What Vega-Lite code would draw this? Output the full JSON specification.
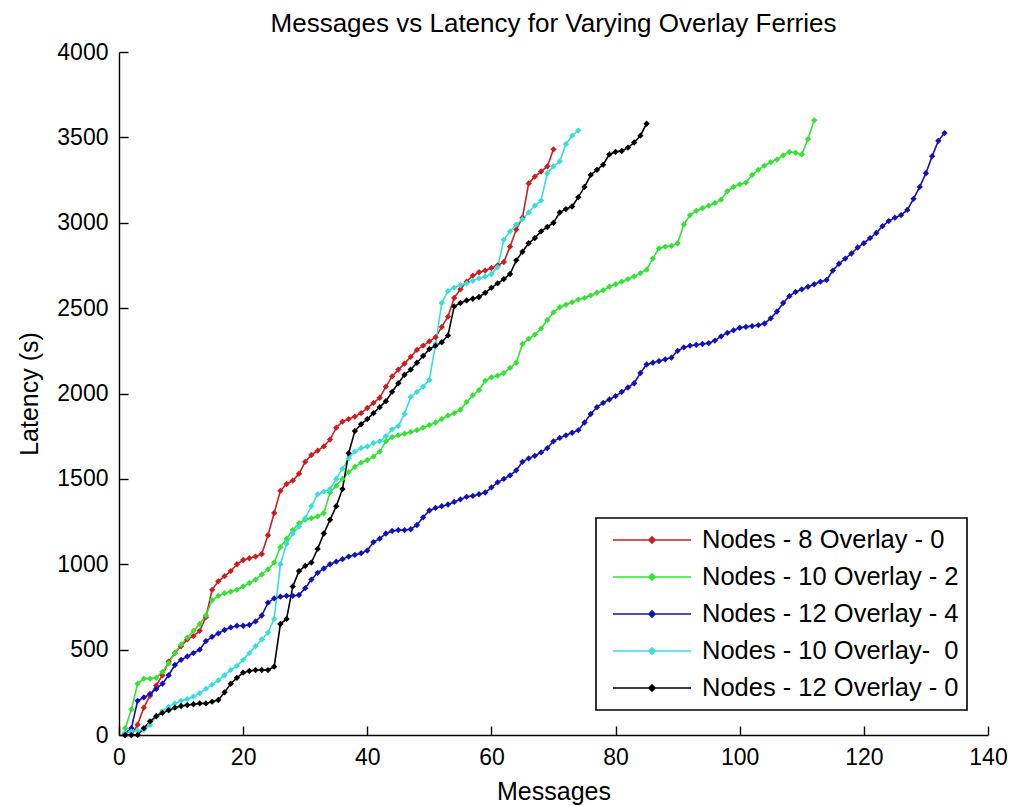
{
  "$schema": "https://vega.github.io/schema/vega-lite/v6.json",
  "width": 869,
  "height": 683,
  "autosize": {"type": "none"},
  "padding": {"left": 119, "top": 52, "right": 24, "bottom": 71},
  "background": "white",
  "title": {"text": "Messages vs Latency for Varying Overlay Ferries", "font": "Liberation Sans", "fontSize": 26, "fontWeight": "normal", "color": "black", "frame": "group", "anchor": "middle", "offset": 4},
  "datasets": {
    "pts": [
      {"series":"R","messages":1,"latency":0},{"series":"R","messages":2,"latency":0},{"series":"R","messages":3,"latency":60},{"series":"R","messages":4,"latency":160},{"series":"R","messages":5,"latency":230},{"series":"R","messages":6,"latency":290},{"series":"R","messages":7,"latency":350},{"series":"R","messages":8,"latency":430},{"series":"R","messages":9,"latency":480},{"series":"R","messages":10,"latency":520},
      {"series":"R","messages":11,"latency":560},{"series":"R","messages":12,"latency":580},{"series":"R","messages":13,"latency":610},{"series":"R","messages":14,"latency":690},{"series":"R","messages":15,"latency":850},{"series":"R","messages":16,"latency":900},{"series":"R","messages":17,"latency":930},{"series":"R","messages":18,"latency":960},{"series":"R","messages":19,"latency":1000},{"series":"R","messages":20,"latency":1025},
      {"series":"R","messages":21,"latency":1035},{"series":"R","messages":22,"latency":1045},{"series":"R","messages":23,"latency":1060},{"series":"R","messages":24,"latency":1170},{"series":"R","messages":25,"latency":1300},{"series":"R","messages":26,"latency":1430},{"series":"R","messages":27,"latency":1470},{"series":"R","messages":28,"latency":1490},{"series":"R","messages":29,"latency":1530},{"series":"R","messages":30,"latency":1600},
      {"series":"R","messages":31,"latency":1640},{"series":"R","messages":32,"latency":1665},{"series":"R","messages":33,"latency":1690},{"series":"R","messages":34,"latency":1730},{"series":"R","messages":35,"latency":1800},{"series":"R","messages":36,"latency":1835},{"series":"R","messages":37,"latency":1850},{"series":"R","messages":38,"latency":1865},{"series":"R","messages":39,"latency":1885},{"series":"R","messages":40,"latency":1915},
      {"series":"R","messages":41,"latency":1945},{"series":"R","messages":42,"latency":1975},{"series":"R","messages":43,"latency":2040},{"series":"R","messages":44,"latency":2100},{"series":"R","messages":45,"latency":2140},{"series":"R","messages":46,"latency":2175},{"series":"R","messages":47,"latency":2215},{"series":"R","messages":48,"latency":2255},{"series":"R","messages":49,"latency":2280},{"series":"R","messages":50,"latency":2305},
      {"series":"R","messages":51,"latency":2330},{"series":"R","messages":52,"latency":2390},{"series":"R","messages":53,"latency":2450},{"series":"R","messages":54,"latency":2560},{"series":"R","messages":55,"latency":2610},{"series":"R","messages":56,"latency":2655},{"series":"R","messages":57,"latency":2690},{"series":"R","messages":58,"latency":2710},{"series":"R","messages":59,"latency":2720},{"series":"R","messages":60,"latency":2735},
      {"series":"R","messages":61,"latency":2750},{"series":"R","messages":62,"latency":2770},{"series":"R","messages":63,"latency":2860},{"series":"R","messages":64,"latency":2960},{"series":"R","messages":65,"latency":3030},{"series":"R","messages":66,"latency":3230},{"series":"R","messages":67,"latency":3270},{"series":"R","messages":68,"latency":3300},{"series":"R","messages":69,"latency":3330},{"series":"R","messages":70,"latency":3430},

      {"series":"G","messages":1,"latency":40},{"series":"G","messages":2,"latency":150},{"series":"G","messages":3,"latency":300},{"series":"G","messages":4,"latency":330},{"series":"G","messages":5,"latency":330},{"series":"G","messages":6,"latency":335},{"series":"G","messages":7,"latency":370},{"series":"G","messages":8,"latency":420},{"series":"G","messages":9,"latency":480},{"series":"G","messages":10,"latency":530},
      {"series":"G","messages":11,"latency":570},{"series":"G","messages":12,"latency":610},{"series":"G","messages":13,"latency":650},{"series":"G","messages":14,"latency":700},{"series":"G","messages":15,"latency":790},{"series":"G","messages":16,"latency":815},{"series":"G","messages":17,"latency":830},{"series":"G","messages":18,"latency":840},{"series":"G","messages":19,"latency":850},{"series":"G","messages":20,"latency":870},
      {"series":"G","messages":21,"latency":890},{"series":"G","messages":22,"latency":910},{"series":"G","messages":23,"latency":940},{"series":"G","messages":24,"latency":970},{"series":"G","messages":25,"latency":1010},{"series":"G","messages":26,"latency":1100},{"series":"G","messages":27,"latency":1150},{"series":"G","messages":28,"latency":1200},{"series":"G","messages":29,"latency":1240},{"series":"G","messages":30,"latency":1260},
      {"series":"G","messages":31,"latency":1270},{"series":"G","messages":32,"latency":1280},{"series":"G","messages":33,"latency":1300},{"series":"G","messages":34,"latency":1420},{"series":"G","messages":35,"latency":1460},{"series":"G","messages":36,"latency":1500},{"series":"G","messages":37,"latency":1540},{"series":"G","messages":38,"latency":1570},{"series":"G","messages":39,"latency":1595},{"series":"G","messages":40,"latency":1610},
      {"series":"G","messages":41,"latency":1630},{"series":"G","messages":42,"latency":1660},{"series":"G","messages":43,"latency":1720},{"series":"G","messages":44,"latency":1745},{"series":"G","messages":45,"latency":1755},{"series":"G","messages":46,"latency":1765},{"series":"G","messages":47,"latency":1775},{"series":"G","messages":48,"latency":1785},{"series":"G","messages":49,"latency":1800},{"series":"G","messages":50,"latency":1815},
      {"series":"G","messages":51,"latency":1830},{"series":"G","messages":52,"latency":1850},{"series":"G","messages":53,"latency":1870},{"series":"G","messages":54,"latency":1885},{"series":"G","messages":55,"latency":1905},{"series":"G","messages":56,"latency":1950},{"series":"G","messages":57,"latency":1990},{"series":"G","messages":58,"latency":2020},{"series":"G","messages":59,"latency":2075},{"series":"G","messages":60,"latency":2095},
      {"series":"G","messages":61,"latency":2105},{"series":"G","messages":62,"latency":2120},{"series":"G","messages":63,"latency":2150},{"series":"G","messages":64,"latency":2180},{"series":"G","messages":65,"latency":2290},{"series":"G","messages":66,"latency":2320},{"series":"G","messages":67,"latency":2345},{"series":"G","messages":68,"latency":2380},{"series":"G","messages":69,"latency":2430},{"series":"G","messages":70,"latency":2475},
      {"series":"G","messages":71,"latency":2505},{"series":"G","messages":72,"latency":2520},{"series":"G","messages":73,"latency":2535},{"series":"G","messages":74,"latency":2550},{"series":"G","messages":75,"latency":2560},{"series":"G","messages":76,"latency":2575},{"series":"G","messages":77,"latency":2590},{"series":"G","messages":78,"latency":2605},{"series":"G","messages":79,"latency":2625},{"series":"G","messages":80,"latency":2640},
      {"series":"G","messages":81,"latency":2655},{"series":"G","messages":82,"latency":2670},{"series":"G","messages":83,"latency":2685},{"series":"G","messages":84,"latency":2705},{"series":"G","messages":85,"latency":2725},{"series":"G","messages":86,"latency":2790},{"series":"G","messages":87,"latency":2850},{"series":"G","messages":88,"latency":2860},{"series":"G","messages":89,"latency":2865},{"series":"G","messages":90,"latency":2880},
      {"series":"G","messages":91,"latency":2990},{"series":"G","messages":92,"latency":3045},{"series":"G","messages":93,"latency":3070},{"series":"G","messages":94,"latency":3085},{"series":"G","messages":95,"latency":3100},{"series":"G","messages":96,"latency":3115},{"series":"G","messages":97,"latency":3135},{"series":"G","messages":98,"latency":3185},{"series":"G","messages":99,"latency":3210},{"series":"G","messages":100,"latency":3225},
      {"series":"G","messages":101,"latency":3235},{"series":"G","messages":102,"latency":3280},{"series":"G","messages":103,"latency":3310},{"series":"G","messages":104,"latency":3335},{"series":"G","messages":105,"latency":3355},{"series":"G","messages":106,"latency":3370},{"series":"G","messages":107,"latency":3395},{"series":"G","messages":108,"latency":3415},{"series":"G","messages":109,"latency":3410},{"series":"G","messages":110,"latency":3400},
      {"series":"G","messages":111,"latency":3490},{"series":"G","messages":112,"latency":3600},

      {"series":"B","messages":1,"latency":10},{"series":"B","messages":2,"latency":40},{"series":"B","messages":3,"latency":200},{"series":"B","messages":4,"latency":220},{"series":"B","messages":5,"latency":240},{"series":"B","messages":6,"latency":270},{"series":"B","messages":7,"latency":300},{"series":"B","messages":8,"latency":350},{"series":"B","messages":9,"latency":410},{"series":"B","messages":10,"latency":440},
      {"series":"B","messages":11,"latency":460},{"series":"B","messages":12,"latency":480},{"series":"B","messages":13,"latency":500},{"series":"B","messages":14,"latency":550},{"series":"B","messages":15,"latency":575},{"series":"B","messages":16,"latency":595},{"series":"B","messages":17,"latency":615},{"series":"B","messages":18,"latency":630},{"series":"B","messages":19,"latency":640},{"series":"B","messages":20,"latency":640},
      {"series":"B","messages":21,"latency":645},{"series":"B","messages":22,"latency":665},{"series":"B","messages":23,"latency":700},{"series":"B","messages":24,"latency":775},{"series":"B","messages":25,"latency":800},{"series":"B","messages":26,"latency":810},{"series":"B","messages":27,"latency":815},{"series":"B","messages":28,"latency":815},{"series":"B","messages":29,"latency":820},{"series":"B","messages":30,"latency":860},
      {"series":"B","messages":31,"latency":910},{"series":"B","messages":32,"latency":950},{"series":"B","messages":33,"latency":975},{"series":"B","messages":34,"latency":1000},{"series":"B","messages":35,"latency":1015},{"series":"B","messages":36,"latency":1030},{"series":"B","messages":37,"latency":1045},{"series":"B","messages":38,"latency":1055},{"series":"B","messages":39,"latency":1065},{"series":"B","messages":40,"latency":1080},
      {"series":"B","messages":41,"latency":1130},{"series":"B","messages":42,"latency":1150},{"series":"B","messages":43,"latency":1180},{"series":"B","messages":44,"latency":1195},{"series":"B","messages":45,"latency":1200},{"series":"B","messages":46,"latency":1200},{"series":"B","messages":47,"latency":1205},{"series":"B","messages":48,"latency":1230},{"series":"B","messages":49,"latency":1275},{"series":"B","messages":50,"latency":1315},
      {"series":"B","messages":51,"latency":1330},{"series":"B","messages":52,"latency":1340},{"series":"B","messages":53,"latency":1350},{"series":"B","messages":54,"latency":1365},{"series":"B","messages":55,"latency":1380},{"series":"B","messages":56,"latency":1395},{"series":"B","messages":57,"latency":1400},{"series":"B","messages":58,"latency":1410},{"series":"B","messages":59,"latency":1420},{"series":"B","messages":60,"latency":1450},
      {"series":"B","messages":61,"latency":1480},{"series":"B","messages":62,"latency":1500},{"series":"B","messages":63,"latency":1520},{"series":"B","messages":64,"latency":1550},{"series":"B","messages":65,"latency":1600},{"series":"B","messages":66,"latency":1620},{"series":"B","messages":67,"latency":1635},{"series":"B","messages":68,"latency":1655},{"series":"B","messages":69,"latency":1680},{"series":"B","messages":70,"latency":1720},
      {"series":"B","messages":71,"latency":1740},{"series":"B","messages":72,"latency":1755},{"series":"B","messages":73,"latency":1770},{"series":"B","messages":74,"latency":1785},{"series":"B","messages":75,"latency":1830},{"series":"B","messages":76,"latency":1880},{"series":"B","messages":77,"latency":1920},{"series":"B","messages":78,"latency":1945},{"series":"B","messages":79,"latency":1965},{"series":"B","messages":80,"latency":1985},
      {"series":"B","messages":81,"latency":2010},{"series":"B","messages":82,"latency":2035},{"series":"B","messages":83,"latency":2060},{"series":"B","messages":84,"latency":2120},{"series":"B","messages":85,"latency":2170},{"series":"B","messages":86,"latency":2180},{"series":"B","messages":87,"latency":2190},{"series":"B","messages":88,"latency":2200},{"series":"B","messages":89,"latency":2210},{"series":"B","messages":90,"latency":2250},
      {"series":"B","messages":91,"latency":2270},{"series":"B","messages":92,"latency":2280},{"series":"B","messages":93,"latency":2285},{"series":"B","messages":94,"latency":2290},{"series":"B","messages":95,"latency":2295},{"series":"B","messages":96,"latency":2310},{"series":"B","messages":97,"latency":2335},{"series":"B","messages":98,"latency":2355},{"series":"B","messages":99,"latency":2370},{"series":"B","messages":100,"latency":2385},
      {"series":"B","messages":101,"latency":2390},{"series":"B","messages":102,"latency":2395},{"series":"B","messages":103,"latency":2400},{"series":"B","messages":104,"latency":2410},{"series":"B","messages":105,"latency":2440},{"series":"B","messages":106,"latency":2480},{"series":"B","messages":107,"latency":2530},{"series":"B","messages":108,"latency":2570},{"series":"B","messages":109,"latency":2595},{"series":"B","messages":110,"latency":2610},
      {"series":"B","messages":111,"latency":2625},{"series":"B","messages":112,"latency":2640},{"series":"B","messages":113,"latency":2655},{"series":"B","messages":114,"latency":2665},{"series":"B","messages":115,"latency":2720},{"series":"B","messages":116,"latency":2760},{"series":"B","messages":117,"latency":2790},{"series":"B","messages":118,"latency":2820},{"series":"B","messages":119,"latency":2855},{"series":"B","messages":120,"latency":2880},
      {"series":"B","messages":121,"latency":2910},{"series":"B","messages":122,"latency":2940},{"series":"B","messages":123,"latency":2980},{"series":"B","messages":124,"latency":3010},{"series":"B","messages":125,"latency":3030},{"series":"B","messages":126,"latency":3045},{"series":"B","messages":127,"latency":3075},{"series":"B","messages":128,"latency":3140},{"series":"B","messages":129,"latency":3210},{"series":"B","messages":130,"latency":3290},
      {"series":"B","messages":131,"latency":3390},{"series":"B","messages":132,"latency":3480},{"series":"B","messages":133,"latency":3525},

      {"series":"C","messages":1,"latency":10},{"series":"C","messages":2,"latency":20},{"series":"C","messages":3,"latency":25},{"series":"C","messages":4,"latency":30},{"series":"C","messages":5,"latency":60},{"series":"C","messages":6,"latency":110},{"series":"C","messages":7,"latency":140},{"series":"C","messages":8,"latency":165},{"series":"C","messages":9,"latency":185},{"series":"C","messages":10,"latency":200},
      {"series":"C","messages":11,"latency":210},{"series":"C","messages":12,"latency":225},{"series":"C","messages":13,"latency":245},{"series":"C","messages":14,"latency":270},{"series":"C","messages":15,"latency":295},{"series":"C","messages":16,"latency":320},{"series":"C","messages":17,"latency":350},{"series":"C","messages":18,"latency":380},{"series":"C","messages":19,"latency":405},{"series":"C","messages":20,"latency":440},
      {"series":"C","messages":21,"latency":480},{"series":"C","messages":22,"latency":520},{"series":"C","messages":23,"latency":560},{"series":"C","messages":24,"latency":600},{"series":"C","messages":25,"latency":680},{"series":"C","messages":26,"latency":1000},{"series":"C","messages":27,"latency":1120},{"series":"C","messages":28,"latency":1180},{"series":"C","messages":29,"latency":1220},{"series":"C","messages":30,"latency":1270},
      {"series":"C","messages":31,"latency":1340},{"series":"C","messages":32,"latency":1410},{"series":"C","messages":33,"latency":1425},{"series":"C","messages":34,"latency":1440},{"series":"C","messages":35,"latency":1500},{"series":"C","messages":36,"latency":1560},{"series":"C","messages":37,"latency":1620},{"series":"C","messages":38,"latency":1660},{"series":"C","messages":39,"latency":1680},{"series":"C","messages":40,"latency":1690},
      {"series":"C","messages":41,"latency":1710},{"series":"C","messages":42,"latency":1720},{"series":"C","messages":43,"latency":1750},{"series":"C","messages":44,"latency":1790},{"series":"C","messages":45,"latency":1810},{"series":"C","messages":46,"latency":1880},{"series":"C","messages":47,"latency":1980},{"series":"C","messages":48,"latency":2010},{"series":"C","messages":49,"latency":2040},{"series":"C","messages":50,"latency":2080},
      {"series":"C","messages":51,"latency":2290},{"series":"C","messages":52,"latency":2530},{"series":"C","messages":53,"latency":2600},{"series":"C","messages":54,"latency":2620},{"series":"C","messages":55,"latency":2635},{"series":"C","messages":56,"latency":2645},{"series":"C","messages":57,"latency":2660},{"series":"C","messages":58,"latency":2675},{"series":"C","messages":59,"latency":2685},{"series":"C","messages":60,"latency":2700},
      {"series":"C","messages":61,"latency":2740},{"series":"C","messages":62,"latency":2900},{"series":"C","messages":63,"latency":2950},{"series":"C","messages":64,"latency":2990},{"series":"C","messages":65,"latency":3020},{"series":"C","messages":66,"latency":3060},{"series":"C","messages":67,"latency":3100},{"series":"C","messages":68,"latency":3130},{"series":"C","messages":69,"latency":3290},{"series":"C","messages":70,"latency":3330},
      {"series":"C","messages":71,"latency":3360},{"series":"C","messages":72,"latency":3460},{"series":"C","messages":73,"latency":3510},{"series":"C","messages":74,"latency":3540},

      {"series":"K","messages":1,"latency":0},{"series":"K","messages":2,"latency":0},{"series":"K","messages":3,"latency":0},{"series":"K","messages":4,"latency":40},{"series":"K","messages":5,"latency":80},{"series":"K","messages":6,"latency":110},{"series":"K","messages":7,"latency":130},{"series":"K","messages":8,"latency":145},{"series":"K","messages":9,"latency":160},{"series":"K","messages":10,"latency":170},
      {"series":"K","messages":11,"latency":175},{"series":"K","messages":12,"latency":180},{"series":"K","messages":13,"latency":185},{"series":"K","messages":14,"latency":185},{"series":"K","messages":15,"latency":195},{"series":"K","messages":16,"latency":205},{"series":"K","messages":17,"latency":250},{"series":"K","messages":18,"latency":300},{"series":"K","messages":19,"latency":335},{"series":"K","messages":20,"latency":365},
      {"series":"K","messages":21,"latency":375},{"series":"K","messages":22,"latency":380},{"series":"K","messages":23,"latency":380},{"series":"K","messages":24,"latency":380},{"series":"K","messages":25,"latency":400},{"series":"K","messages":26,"latency":650},{"series":"K","messages":27,"latency":680},{"series":"K","messages":28,"latency":870},{"series":"K","messages":29,"latency":960},{"series":"K","messages":30,"latency":990},
      {"series":"K","messages":31,"latency":1010},{"series":"K","messages":32,"latency":1090},{"series":"K","messages":33,"latency":1180},{"series":"K","messages":34,"latency":1260},{"series":"K","messages":35,"latency":1340},{"series":"K","messages":36,"latency":1440},{"series":"K","messages":37,"latency":1650},{"series":"K","messages":38,"latency":1780},{"series":"K","messages":39,"latency":1820},{"series":"K","messages":40,"latency":1850},
      {"series":"K","messages":41,"latency":1885},{"series":"K","messages":42,"latency":1920},{"series":"K","messages":43,"latency":1955},{"series":"K","messages":44,"latency":2010},{"series":"K","messages":45,"latency":2060},{"series":"K","messages":46,"latency":2110},{"series":"K","messages":47,"latency":2140},{"series":"K","messages":48,"latency":2180},{"series":"K","messages":49,"latency":2220},{"series":"K","messages":50,"latency":2260},
      {"series":"K","messages":51,"latency":2280},{"series":"K","messages":52,"latency":2300},{"series":"K","messages":53,"latency":2340},{"series":"K","messages":54,"latency":2510},{"series":"K","messages":55,"latency":2530},{"series":"K","messages":56,"latency":2545},{"series":"K","messages":57,"latency":2555},{"series":"K","messages":58,"latency":2565},{"series":"K","messages":59,"latency":2590},{"series":"K","messages":60,"latency":2620},
      {"series":"K","messages":61,"latency":2645},{"series":"K","messages":62,"latency":2670},{"series":"K","messages":63,"latency":2700},{"series":"K","messages":64,"latency":2780},{"series":"K","messages":65,"latency":2830},{"series":"K","messages":66,"latency":2880},{"series":"K","messages":67,"latency":2910},{"series":"K","messages":68,"latency":2950},{"series":"K","messages":69,"latency":2975},{"series":"K","messages":70,"latency":3000},
      {"series":"K","messages":71,"latency":3060},{"series":"K","messages":72,"latency":3080},{"series":"K","messages":73,"latency":3095},{"series":"K","messages":74,"latency":3150},{"series":"K","messages":75,"latency":3210},{"series":"K","messages":76,"latency":3280},{"series":"K","messages":77,"latency":3310},{"series":"K","messages":78,"latency":3340},{"series":"K","messages":79,"latency":3400},{"series":"K","messages":80,"latency":3415},
      {"series":"K","messages":81,"latency":3420},{"series":"K","messages":82,"latency":3440},{"series":"K","messages":83,"latency":3470},{"series":"K","messages":84,"latency":3510},{"series":"K","messages":85,"latency":3580}
    ]
  },
  "data": {"name": "pts"},
  "mark": {"type": "line", "strokeWidth": 1.6, "point": {"shape": "diamond", "size": 40, "filled": true}},
  "encoding": {
    "x": {
      "field": "messages", "type": "quantitative",
      "scale": {"domain": [0, 140], "nice": false, "zero": false},
      "axis": {"values": [0, 20, 40, 60, 80, 100, 120, 140], "format": "d", "title": "Messages", "titlePadding": 10, "labelPadding": 20}
    },
    "y": {
      "field": "latency", "type": "quantitative",
      "scale": {"domain": [0, 4000], "nice": false},
      "axis": {"values": [0, 500, 1000, 1500, 2000, 2500, 3000, 3500, 4000], "format": "d", "title": "Latency (s)", "titlePadding": 14, "labelPadding": 20}
    },
    "color": {
      "field": "series", "type": "nominal",
      "scale": {"domain": ["R", "G", "B", "C", "K"], "range": ["#cc1e1e", "#35e235", "#1212b8", "#38dede", "#000000"]},
      "legend": {
        "orient": "none", "legendX": 477, "legendY": 466, "title": null,
        "labelExpr": "{'R':'Nodes - 8 Overlay - 0','G':'Nodes - 10 Overlay - 2','B':'Nodes - 12 Overlay - 4','C':'Nodes - 10 Overlay-\u00a0 0','K':'Nodes - 12 Overlay - 0'}[datum.label]",
        "labelFont": "Liberation Sans", "labelFontSize": 25.5, "labelColor": "black", "labelLimit": 500, "labelOffset": 10,
        "symbolType": "M-1,0H1M-0.08,0L0,-0.08L0.08,0L0,0.08Z", "symbolSize": 6084, "symbolStrokeWidth": 1.5,
        "clipHeight": 28, "rowPadding": 9, "padding": 8, "symbolOffset": 8,
        "strokeColor": "black", "fillColor": "white",
        "encode": {
          "symbols": {"update": {"fill": {"scale": "color", "field": "value"}}},
          "legend": {"update": {"strokeWidth": {"value": 1.6}}}
        }
      }
    }
  },
  "config": {
    "view": {"stroke": null},
    "axis": {
      "labelFont": "Liberation Sans", "labelFontSize": 23, "labelColor": "black",
      "titleFont": "Liberation Sans", "titleFontSize": 25, "titleFontWeight": "normal", "titleColor": "black",
      "domainColor": "black", "domainWidth": 1.4, "tickColor": "black", "tickWidth": 1.4, "tickSize": -9,
      "grid": false, "labelFlush": false, "labelOverlap": false
    }
  }
}
